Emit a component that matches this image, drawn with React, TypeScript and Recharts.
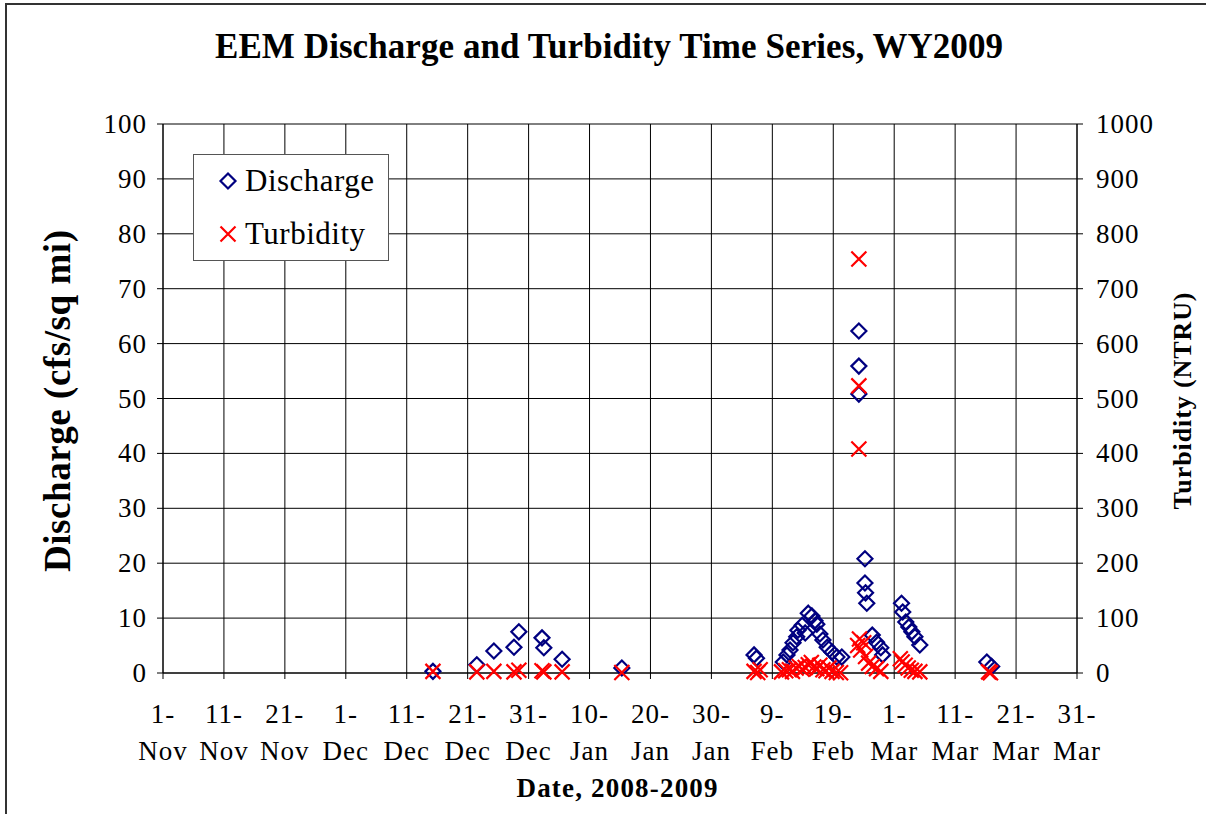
import { CartesianGrid, Legend, Scatter, ScatterChart, XAxis, YAxis } from "recharts"

// x values are days counted from 1-Nov-2008
const xTickDays = [0, 10, 20, 30, 40, 50, 60, 70, 80, 90, 100, 110, 120, 130, 140, 150]
const xTickLabels = [
  "1-Nov", "11-Nov", "21-Nov", "1-Dec", "11-Dec", "21-Dec", "31-Dec", "10-Jan",
  "20-Jan", "30-Jan", "9-Feb", "19-Feb", "1-Mar", "11-Mar", "21-Mar", "31-Mar",
]
const dischargeTicks = [0, 10, 20, 30, 40, 50, 60, 70, 80, 90, 100]
const turbidityTicks = [0, 100, 200, 300, 400, 500, 600, 700, 800, 900, 1000]

const dischargeDays = [
  44.3, 51.5, 54.3, 57.6, 58.4, 62.2, 62.5, 65.5, 75.3,
  97.0, 97.4, 101.8, 102.4, 102.9, 103.4, 104.0, 104.2, 104.9, 105.4, 105.9,
  106.5, 107.0, 107.3, 107.8, 108.3, 109.0, 109.8, 110.6, 111.4,
  114.2, 114.2, 114.2, 115.2, 115.2, 115.3, 115.5, 116.4, 117.1, 117.8, 118.1,
  121.2, 121.4, 121.9, 122.4, 122.9, 123.4, 124.2,
  135.2, 136.0,
]
const dischargeValues = [
  0.3, 1.5, 4.0, 4.7, 7.5, 6.4, 4.6, 2.5, 0.9,
  3.3, 2.7, 2.0, 3.3, 4.2, 5.5, 6.6, 7.8, 8.7, 7.3, 10.9,
  10.4, 9.5, 8.9, 7.1, 6.0, 4.7, 3.8, 2.9, 2.9,
  62.3, 55.9, 50.8, 20.8, 16.4, 14.6, 12.7, 6.9, 5.6, 4.6, 3.3,
  12.7, 11.1, 9.3, 8.4, 7.5, 6.6, 5.1,
  2.0, 1.2,
]

const turbidityDays = [
  44.3, 51.5, 54.3, 57.6, 58.4, 62.2, 62.5, 65.5, 75.3,
  97.0, 97.6, 98.0,
  101.5, 102.2, 102.8, 103.3, 103.9, 104.4, 104.9, 105.4, 105.9, 106.4,
  106.8, 107.3, 107.8, 108.3, 108.8, 109.3, 109.8, 110.5, 111.2,
  114.2, 114.2, 114.2, 114.0, 114.3, 114.5, 115.0, 115.3, 115.8, 116.4, 117.1, 117.8,
  121.0, 121.3, 121.8, 122.3, 122.8, 123.4, 124.2,
  135.5, 135.8,
]
const turbidityValues = [
  3, 2, 3, 2, 5, 4, 2, 2, 1,
  3, 1, 6,
  2, 4, 6, 3, 9, 12, 7, 10, 15, 19,
  11, 8, 14, 6, 4, 9, 3, 1, 0.5,
  754, 523, 408, 50, 62, 42, 55, 30, 18, 12, 8, 3,
  26, 20, 14, 9, 5, 3, 2,
  2, 0.5,
]

const dischargeData = dischargeDays.map((day, i) => ({ day, q: dischargeValues[i] }))
const turbidityData = turbidityDays.map((day, i) => ({ day, t: turbidityValues[i] }))

const FONT = "Liberation Serif"
const NAVY = "#000080"
const RED = "#ff0000"

function Diamond({ cx, cy }: { cx?: number; cy?: number }) {
  if (cx == null || cy == null) return null
  const r = 7.5
  return (
    <path
      d={`M${cx},${cy - r}L${cx + r},${cy}L${cx},${cy + r}L${cx - r},${cy}Z`}
      fill="none"
      stroke={NAVY}
      strokeWidth={2.2}
    />
  )
}

function Cross({ cx, cy }: { cx?: number; cy?: number }) {
  if (cx == null || cy == null) return null
  const r = 7.5
  return (
    <path
      d={`M${cx - r},${cy - r}L${cx + r},${cy + r}M${cx - r},${cy + r}L${cx + r},${cy - r}`}
      fill="none"
      stroke={RED}
      strokeWidth={2.2}
    />
  )
}

function DateTick({ x, y, payload }: any) {
  const idx = xTickDays.indexOf(payload.value)
  const [d, m] = (xTickLabels[idx] ?? "").split("-")
  return (
    <text textAnchor="middle" style={{ fontFamily: FONT, fontSize: 27, letterSpacing: 1 }} fill="#000">
      <tspan x={x} y={y + 44}>{d}-</tspan>
      <tspan x={x} y={y + 81}>{m}</tspan>
    </text>
  )
}

function ValueTick({ x, y, payload, anchor }: any) {
  return (
    <text
      x={x}
      y={y}
      dy={9}
      textAnchor={anchor}
      style={{ fontFamily: FONT, fontSize: 27, letterSpacing: 1 }}
      fill="#000"
    >
      {payload.value}
    </text>
  )
}

function LegendBox({ payload }: any) {
  return (
    <div
      style={{
        width: 194,
        height: 105,
        border: "1px solid #555",
        background: "#fff",
        fontFamily: FONT,
        fontSize: 31,
        position: "relative",
      }}
    >
      {(payload ?? []).map((entry: any, i: number) => (
        <div
          key={entry.value}
          style={{ position: "absolute", left: 24, top: 8 + i * 53, display: "flex", alignItems: "center", letterSpacing: 0.5 }}
        >
          <svg width={20} height={20} style={{ marginRight: 7 }}>
            {entry.value === "Discharge" ? <Diamond cx={10} cy={10} /> : <Cross cx={10} cy={10} />}
          </svg>
          <span>{entry.value}</span>
        </div>
      ))}
    </div>
  )
}

export default function App() {
  return (
    <div style={{ position: "absolute", left: 0, top: 0, width: 1206, height: 814, background: "#fff", overflow: "hidden" }}>
      <div
        style={{
          position: "absolute",
          left: 5,
          top: 3,
          width: 1210,
          height: 820,
          borderTop: "2px solid #333",
          borderLeft: "2px solid #333",
        }}
      />
      <div style={{ position: "absolute", left: 0, top: 0 }}>
        <ScatterChart width={1206} height={814} margin={{ top: 124, right: 0, bottom: 0, left: 0 }}>
          <CartesianGrid yAxisId="q" stroke="#000" strokeWidth={1} />
          <XAxis
            type="number"
            dataKey="day"
            domain={[0, 150]}
            ticks={xTickDays}
            interval={0}
            height={141}
            tickSize={6}
            tickMargin={0}
            stroke="#000"
            tick={<DateTick />}
            allowDataOverflow
          />
          <YAxis
            yAxisId="q"
            type="number"
            dataKey="q"
            domain={[0, 100]}
            ticks={dischargeTicks}
            interval={0}
            width={163}
            tickSize={6}
            tickMargin={10}
            stroke="#000"
            tick={<ValueTick anchor="end" />}
          />
          <YAxis
            yAxisId="t"
            orientation="right"
            type="number"
            dataKey="t"
            domain={[0, 1000]}
            ticks={turbidityTicks}
            interval={0}
            width={129}
            tickSize={6}
            tickMargin={13}
            stroke="#000"
            tick={<ValueTick anchor="start" />}
          />
          <Legend
            layout="vertical"
            align="center"
            verticalAlign="middle"
            content={<LegendBox />}
            wrapperStyle={{ position: "absolute", left: 193, top: 154, width: 196, height: 107 }}
          />
          <Scatter
            name="Discharge"
            data={dischargeData}
            yAxisId="q"
            shape={<Diamond />}
            isAnimationActive={false}
          />
          <Scatter
            name="Turbidity"
            data={turbidityData}
            yAxisId="t"
            shape={<Cross />}
            isAnimationActive={false}
          />
        </ScatterChart>
      </div>
      <svg width={1206} height={814} style={{ position: "absolute", left: 0, top: 0, pointerEvents: "none" }}>
        <text
          x={609}
          y={58}
          textAnchor="middle"
          style={{ fontFamily: FONT, fontWeight: "bold", fontSize: 35 }}
          textLength={788}
          lengthAdjust="spacing"
        >
          EEM Discharge and Turbidity Time Series, WY2009
        </text>
        <text
          x={617}
          y={797}
          textAnchor="middle"
          style={{ fontFamily: FONT, fontWeight: "bold", fontSize: 27 }}
          textLength={201}
          lengthAdjust="spacing"
        >
          Date, 2008-2009
        </text>
        <text
          transform="translate(70,401) rotate(-90)"
          textAnchor="middle"
          style={{ fontFamily: FONT, fontWeight: "bold", fontSize: 37 }}
          textLength={342}
          lengthAdjust="spacing"
        >
          Discharge (cfs/sq mi)
        </text>
        <text
          transform="translate(1191,401) rotate(-90)"
          textAnchor="middle"
          style={{ fontFamily: FONT, fontWeight: "bold", fontSize: 26 }}
          textLength={217}
          lengthAdjust="spacing"
        >
          Turbidity (NTRU)
        </text>
      </svg>
    </div>
  )
}
